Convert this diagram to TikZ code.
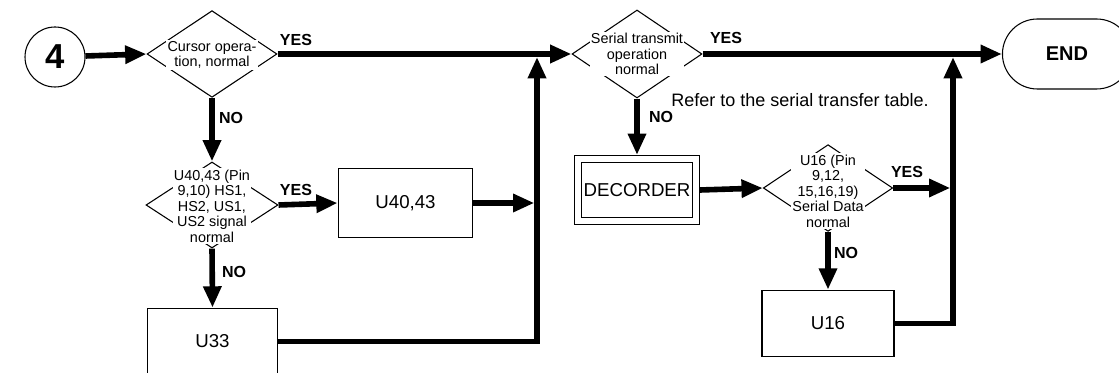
\documentclass[tikz,border=0pt]{standalone}
\usepackage{fontspec}
\setmainfont{Liberation Sans}
\usetikzlibrary{arrows.meta,shapes.geometric,shapes.misc}

\begin{document}
\begin{tikzpicture}[
  x=0.75pt, y=-0.75pt,
  decide/.style={draw, diamond, line width=0.8pt, inner sep=0pt,
                 minimum width=97.5pt, minimum height=65pt},
  qtext/.style={fill=white, inner sep=1pt, align=center,
                font=\fontsize{10.8}{11.6}\selectfont},
  unit/.style={draw, line width=0.8pt, minimum width=99pt, minimum height=51pt,
               font=\fontsize{14}{16}\selectfont},
  dunit/.style={unit, double, double distance=4.5pt, inner sep=1pt,
                minimum width=88.5pt, minimum height=46.5pt, outer sep=3.05pt},
  flow/.style={line width=4.2pt, -{Triangle[length=16pt, width=13pt]}},
  ans/.style={font=\fontsize{12}{13}\selectfont\bfseries}
]
\path[fill=white] (0,0) rectangle (1119,373);
\useasboundingbox (0,0) rectangle (1119,373);

% top row
\node[draw, circle, line width=0.8pt, minimum size=45pt, inner sep=0pt,
      font=\fontsize{26}{28}\selectfont\bfseries] (start) at (55,57) {4};
\node[decide] (cursor) at (212,54) {};
\node[qtext] (cursortxt) at (212,55) {Cursor opera-\\tion, normal};
\node[decide, minimum height=66pt] (serial) at (637,54) {};
\node[qtext] (serialtxt) at (637,54) {Serial transmit\\operation\\normal};
\node[draw, rounded rectangle, line width=0.8pt, minimum width=103.5pt,
      minimum height=52.5pt, font=\fontsize{15}{17}\selectfont\bfseries] (finish) at (1067,54) {END};
\node[font=\fontsize{13.5}{15}\selectfont] (note) at (800,100) {Refer to the serial transfer table.};

% left column
\node[decide, minimum width=99pt, minimum height=64.5pt] (sig) at (212,205) {};
\node[qtext] (sigtxt) at (212,206) {U40,43 (Pin\\9,10) HS1,\\HS2, US1,\\US2 signal\\normal};
\node[unit, minimum width=101pt, minimum height=52pt] (u4043) at (405.5,203) {U40,43};
\node[unit, minimum width=98pt, minimum height=50pt] (u33) at (212.5,341.5) {U33};

% right column
\node[dunit] (dec) at (637,190) {DECORDER};
\node[decide, minimum width=97pt] (data) at (828,188) {};
\node[qtext] (datatxt) at (828,191) {U16 (Pin\\9,12,\\15,16,19)\\Serial Data\\normal};
\node[unit, minimum height=50pt] (u16) at (828,323.5) {U16};

\coordinate (join1) at (537,57);
\coordinate (join2) at (953,57);

% connectors
\draw[flow] (start) -- (cursor.west);
\draw[flow] (cursor.east) -- (serial.west);
\draw[flow] (serial.east) -- (finish.west);
\draw[flow] (cursor.south) -- (sig.north);
\draw[flow] (sig.east) -- (u4043.west);
\draw[flow, shorten >=2pt] (u4043.east) -- (u4043.east -| join1);
\draw[flow] (sig.south) -- (u33.north);
\draw[flow] (u33.east) -| (join1);
\draw[flow] (serial.south) -- (dec.north);
\draw[flow] (dec.east) -- (data.west);
\draw[flow, shorten >=2pt] (data.east) -- (data.east -| join2);
\draw[flow] (data.south) -- (u16.north);
\draw[flow] (u16.east) -| (join2);

% answers
\node[ans] (yes1) at (296,40) {YES};
\node[ans] (no1) at (231,118) {NO};
\node[ans] (yes2) at (726,38) {YES};
\node[ans] (no2) at (661,117) {NO};
\node[ans] (yes3) at (296,190) {YES};
\node[ans] (no3) at (234,272) {NO};
\node[ans] (yes4) at (907,172) {YES};
\node[ans] (no4) at (846,253) {NO};
\end{tikzpicture}
\end{document}
